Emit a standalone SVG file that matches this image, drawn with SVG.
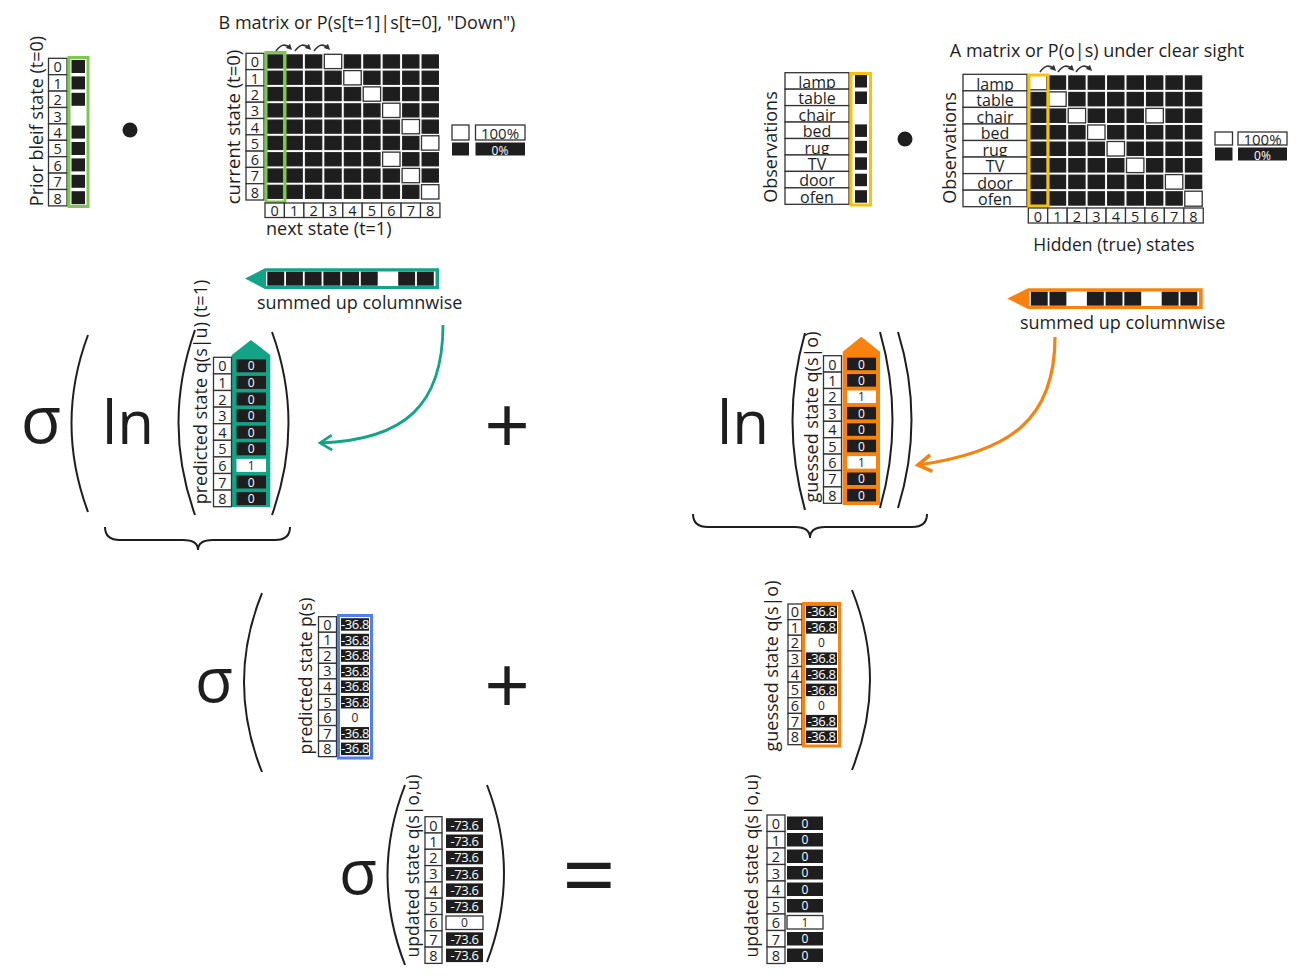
<svg xmlns="http://www.w3.org/2000/svg" width="1308" height="976" viewBox="0 0 1308 976">
<style>
.t{font-family:"Open Sans","DejaVu Sans",sans-serif;fill:#1e1e1e}
.ib{fill:#fff;stroke:#333;stroke-width:1.3}
.bk{fill:#1e1e1e}
.wc{fill:#fff;stroke:#333;stroke-width:1.3}
.n{font-family:"Open Sans","DejaVu Sans",sans-serif;fill:#1e1e1e;font-size:14.5px;text-anchor:middle}
.o{font-family:"Open Sans","DejaVu Sans",sans-serif;fill:#1e1e1e;font-size:16px;text-anchor:middle}
.v{font-family:"Open Sans","DejaVu Sans",sans-serif;fill:#fff;font-size:12px;text-anchor:middle}
.vb{font-family:"Open Sans","DejaVu Sans",sans-serif;fill:#1e1e1e;font-size:12px;text-anchor:middle}
.v3{font-family:"Open Sans","DejaVu Sans",sans-serif;fill:#fff;font-size:13px;text-anchor:middle;letter-spacing:-0.4px}
.par{fill:none;stroke:#1e1e1e;stroke-width:2}
.big{font-family:"Open Sans","DejaVu Sans",sans-serif;fill:#1e1e1e;text-anchor:middle}
.ca{fill:none;stroke:#333;stroke-width:1.6}
</style>
<defs>
<pattern id="pB" patternUnits="userSpaceOnUse" x="265" y="53.3" width="19.44" height="16.3"><rect x="1" y="1" width="17.44" height="14.3" fill="#1e1e1e"/></pattern>
<pattern id="pA" patternUnits="userSpaceOnUse" x="1028.3" y="74.3" width="19.44" height="16.55"><rect x="1" y="1" width="17.44" height="14.55" fill="#1e1e1e"/></pattern>
<marker id="mT" viewBox="0 0 12 12" refX="10" refY="6" markerWidth="18" markerHeight="18" markerUnits="userSpaceOnUse" orient="auto"><path d="M2,1 L10,6 L2,11" fill="none" stroke="#13a386" stroke-width="1.8"/></marker>
<marker id="mO" viewBox="0 0 12 12" refX="10" refY="6" markerWidth="20" markerHeight="20" markerUnits="userSpaceOnUse" orient="auto"><path d="M2,1 L10,6 L2,11" fill="none" stroke="#f7820f" stroke-width="2.2"/></marker>
<marker id="mc" viewBox="0 0 8 8" refX="4" refY="4" markerWidth="6" markerHeight="6" markerUnits="userSpaceOnUse" orient="auto"><path d="M0,0 L8,4 L0,8 Z" fill="#333"/></marker>
</defs>

<!-- Prior belief -->
<g id="prior">
<text class="t" font-size="18" text-anchor="middle" transform="translate(43,121) rotate(-90)">Prior bleif state (t=0)</text>
<rect class="ib" x="48.5" y="58.3" width="18.5" height="16.4"/><text class="n" x="57.7" y="72.3">0</text>
<rect class="ib" x="48.5" y="74.7" width="18.5" height="16.4"/><text class="n" x="57.7" y="88.7">1</text>
<rect class="ib" x="48.5" y="91.1" width="18.5" height="16.4"/><text class="n" x="57.7" y="105.1">2</text>
<rect class="ib" x="48.5" y="107.5" width="18.5" height="16.4"/><text class="n" x="57.7" y="121.5">3</text>
<rect class="ib" x="48.5" y="123.9" width="18.5" height="16.4"/><text class="n" x="57.7" y="137.9">4</text>
<rect class="ib" x="48.5" y="140.3" width="18.5" height="16.4"/><text class="n" x="57.7" y="154.3">5</text>
<rect class="ib" x="48.5" y="156.7" width="18.5" height="16.4"/><text class="n" x="57.7" y="170.7">6</text>
<rect class="ib" x="48.5" y="173.1" width="18.5" height="16.4"/><text class="n" x="57.7" y="187.1">7</text>
<rect class="ib" x="48.5" y="189.5" width="18.5" height="16.4"/><text class="n" x="57.7" y="203.5">8</text>
<rect class="bk" x="71.5" y="60" width="13.5" height="13"/>
<rect class="bk" x="71.5" y="76.4" width="13.5" height="13"/>
<rect class="bk" x="71.5" y="92.8" width="13.5" height="13"/>
<rect fill="#fff" x="71.5" y="109.2" width="13.5" height="13"/>
<rect class="bk" x="71.5" y="125.6" width="13.5" height="13"/>
<rect class="bk" x="71.5" y="142" width="13.5" height="13"/>
<rect class="bk" x="71.5" y="158.4" width="13.5" height="13"/>
<rect class="bk" x="71.5" y="174.8" width="13.5" height="13"/>
<rect class="bk" x="71.5" y="191.2" width="13.5" height="13"/>
<rect x="69" y="57.5" width="19" height="149" fill="none" stroke="#7ec84f" stroke-width="3"/>
</g>
<g id="dot1"><circle cx="130" cy="130" r="7.5" fill="#1e1e1e"/></g>

<!-- B matrix -->
<g id="Bmatrix">
<text class="t" font-size="18" text-anchor="middle" x="367" y="29">B matrix or P(s[t=1]|s[t=0], "Down")</text>
<text class="t" font-size="18.5" text-anchor="middle" transform="translate(240,127) rotate(-90)">current state (t=0)</text>
<text class="t" font-size="18" x="266" y="235">next state (t=1)</text>
<rect class="ib" x="246" y="53.3" width="18" height="16.3"/><text class="n" x="255" y="67.3">0</text>
<rect class="ib" x="246" y="69.6" width="18" height="16.3"/><text class="n" x="255" y="83.6">1</text>
<rect class="ib" x="246" y="85.9" width="18" height="16.3"/><text class="n" x="255" y="99.9">2</text>
<rect class="ib" x="246" y="102.2" width="18" height="16.3"/><text class="n" x="255" y="116.2">3</text>
<rect class="ib" x="246" y="118.5" width="18" height="16.3"/><text class="n" x="255" y="132.5">4</text>
<rect class="ib" x="246" y="134.8" width="18" height="16.3"/><text class="n" x="255" y="148.8">5</text>
<rect class="ib" x="246" y="151.1" width="18" height="16.3"/><text class="n" x="255" y="165.1">6</text>
<rect class="ib" x="246" y="167.4" width="18" height="16.3"/><text class="n" x="255" y="181.4">7</text>
<rect class="ib" x="246" y="183.7" width="18" height="16.3"/><text class="n" x="255" y="197.7">8</text>
<rect x="265" y="53.3" width="175" height="146.7" fill="url(#pB)"/>
<rect class="wc" x="324.3" y="54.3" width="17.4" height="14.3"/>
<rect class="wc" x="343.8" y="70.6" width="17.4" height="14.3"/>
<rect class="wc" x="363.2" y="86.9" width="17.4" height="14.3"/>
<rect class="wc" x="382.6" y="103.2" width="17.4" height="14.3"/>
<rect class="wc" x="402.1" y="119.5" width="17.4" height="14.3"/>
<rect class="wc" x="421.5" y="135.8" width="17.4" height="14.3"/>
<rect class="wc" x="382.6" y="152.1" width="17.4" height="14.3"/>
<rect class="wc" x="402.1" y="168.4" width="17.4" height="14.3"/>
<rect class="wc" x="421.5" y="184.7" width="17.4" height="14.3"/>
<rect x="266" y="52.5" width="19" height="149.5" fill="none" stroke="#7ec84f" stroke-width="3"/>
<rect class="ib" x="265" y="203" width="19.44" height="14.5"/><text class="n" x="274.7" y="216">0</text>
<rect class="ib" x="284.4" y="203" width="19.44" height="14.5"/><text class="n" x="294.1" y="216">1</text>
<rect class="ib" x="303.9" y="203" width="19.44" height="14.5"/><text class="n" x="313.6" y="216">2</text>
<rect class="ib" x="323.3" y="203" width="19.44" height="14.5"/><text class="n" x="333" y="216">3</text>
<rect class="ib" x="342.8" y="203" width="19.44" height="14.5"/><text class="n" x="352.5" y="216">4</text>
<rect class="ib" x="362.2" y="203" width="19.44" height="14.5"/><text class="n" x="371.9" y="216">5</text>
<rect class="ib" x="381.6" y="203" width="19.44" height="14.5"/><text class="n" x="391.3" y="216">6</text>
<rect class="ib" x="401.1" y="203" width="19.44" height="14.5"/><text class="n" x="410.8" y="216">7</text>
<rect class="ib" x="420.5" y="203" width="19.44" height="14.5"/><text class="n" x="430.2" y="216">8</text>
<path class="ca" d="M276,51 Q283,41 290,48" marker-end="url(#mc)"/>
<path class="ca" d="M295,51 Q302,41 309,48" marker-end="url(#mc)"/>
<path class="ca" d="M314,51 Q321,41 328,48" marker-end="url(#mc)"/>
<rect class="wc" x="452" y="125" width="17" height="15"/>
<rect class="wc" x="475.5" y="125" width="49.5" height="15"/><text class="t" font-size="15" text-anchor="middle" x="500" y="138.5">100%</text>
<rect class="bk" x="452" y="142.5" width="17" height="13"/>
<rect class="bk" x="475.5" y="142.5" width="49.5" height="13"/><text class="v" font-size="15" x="500" y="154.5">0%</text>
</g>

<!-- Observation vector (left) -->
<g id="obsvec">
<text class="t" font-size="18" text-anchor="middle" transform="translate(777,147) rotate(-90)">Observations</text>
<rect class="ib" x="785" y="72.7" width="64" height="16.45"/><text class="o" x="817" y="87.7">lamp</text>
<rect class="ib" x="785" y="89.15" width="64" height="16.45"/><text class="o" x="817" y="104.2">table</text>
<rect class="ib" x="785" y="105.6" width="64" height="16.45"/><text class="o" x="817" y="120.6">chair</text>
<rect class="ib" x="785" y="122.05" width="64" height="16.45"/><text class="o" x="817" y="137.1">bed</text>
<rect class="ib" x="785" y="138.5" width="64" height="16.45"/><text class="o" x="817" y="153.5">rug</text>
<rect class="ib" x="785" y="154.95" width="64" height="16.45"/><text class="o" x="817" y="170">TV</text>
<rect class="ib" x="785" y="171.4" width="64" height="16.45"/><text class="o" x="817" y="186.4">door</text>
<rect class="ib" x="785" y="187.85" width="64" height="16.45"/><text class="o" x="817" y="202.9">ofen</text>
<rect class="bk" x="855" y="75" width="12" height="12.5"/>
<rect class="bk" x="855" y="91.5" width="12" height="12.5"/>
<rect fill="#fff" x="855" y="107.9" width="12" height="12.5"/>
<rect class="bk" x="855" y="124.4" width="12" height="12.5"/>
<rect class="bk" x="855" y="140.8" width="12" height="12.5"/>
<rect class="bk" x="855" y="157.3" width="12" height="12.5"/>
<rect class="bk" x="855" y="173.7" width="12" height="12.5"/>
<rect class="bk" x="855" y="190.2" width="12" height="12.5"/>
<rect x="851" y="73.5" width="19.5" height="131.5" fill="none" stroke="#f8c20b" stroke-width="3"/>
</g>
<g id="dot2"><circle cx="905" cy="139" r="7.5" fill="#1e1e1e"/></g>

<!-- A matrix -->
<g id="Amatrix">
<text class="t" font-size="18" text-anchor="middle" x="1097" y="57">A matrix or P(o|s) under clear sight</text>
<text class="t" font-size="18" text-anchor="middle" transform="translate(956,148) rotate(-90)">Observations</text>
<text class="t" font-size="17.5" text-anchor="middle" x="1114" y="251">Hidden (true) states</text>
<rect class="ib" x="963" y="74.3" width="64" height="16.55"/><text class="o" x="995" y="89.5">lamp</text>
<rect class="ib" x="963" y="90.85" width="64" height="16.55"/><text class="o" x="995" y="106">table</text>
<rect class="ib" x="963" y="107.4" width="64" height="16.55"/><text class="o" x="995" y="122.6">chair</text>
<rect class="ib" x="963" y="123.95" width="64" height="16.55"/><text class="o" x="995" y="139.1">bed</text>
<rect class="ib" x="963" y="140.5" width="64" height="16.55"/><text class="o" x="995" y="155.7">rug</text>
<rect class="ib" x="963" y="157.05" width="64" height="16.55"/><text class="o" x="995" y="172.2">TV</text>
<rect class="ib" x="963" y="173.6" width="64" height="16.55"/><text class="o" x="995" y="188.8">door</text>
<rect class="ib" x="963" y="190.15" width="64" height="16.55"/><text class="o" x="995" y="205.3">ofen</text>
<rect x="1028.3" y="74.3" width="175" height="132.4" fill="url(#pA)"/>
<rect class="wc" x="1029.3" y="75.3" width="17.4" height="14.5"/>
<rect class="wc" x="1048.7" y="91.9" width="17.4" height="14.5"/>
<rect class="wc" x="1068.2" y="108.4" width="17.4" height="14.5"/>
<rect class="wc" x="1145.9" y="108.4" width="17.4" height="14.5"/>
<rect class="wc" x="1087.6" y="125" width="17.4" height="14.5"/>
<rect class="wc" x="1107.1" y="141.5" width="17.4" height="14.5"/>
<rect class="wc" x="1126.5" y="158.1" width="17.4" height="14.5"/>
<rect class="wc" x="1165.4" y="174.6" width="17.4" height="14.5"/>
<rect class="wc" x="1184.8" y="191.2" width="17.4" height="15"/>
<rect x="1029" y="75" width="19" height="131" fill="none" stroke="#f8c20b" stroke-width="3"/>
<rect class="ib" x="1028.3" y="208" width="19.44" height="15"/><text class="n" x="1038" y="221.5">0</text>
<rect class="ib" x="1047.7" y="208" width="19.44" height="15"/><text class="n" x="1057.4" y="221.5">1</text>
<rect class="ib" x="1067.2" y="208" width="19.44" height="15"/><text class="n" x="1076.9" y="221.5">2</text>
<rect class="ib" x="1086.6" y="208" width="19.44" height="15"/><text class="n" x="1096.3" y="221.5">3</text>
<rect class="ib" x="1106.1" y="208" width="19.44" height="15"/><text class="n" x="1115.8" y="221.5">4</text>
<rect class="ib" x="1125.5" y="208" width="19.44" height="15"/><text class="n" x="1135.2" y="221.5">5</text>
<rect class="ib" x="1144.9" y="208" width="19.44" height="15"/><text class="n" x="1154.6" y="221.5">6</text>
<rect class="ib" x="1164.4" y="208" width="19.44" height="15"/><text class="n" x="1174.1" y="221.5">7</text>
<rect class="ib" x="1183.8" y="208" width="19.44" height="15"/><text class="n" x="1193.5" y="221.5">8</text>
<path class="ca" d="M1040,72 Q1047,62 1054,69" marker-end="url(#mc)"/>
<path class="ca" d="M1058,72 Q1065,62 1072,69" marker-end="url(#mc)"/>
<path class="ca" d="M1076,72 Q1083,62 1090,69" marker-end="url(#mc)"/>
<rect class="wc" x="1215" y="132" width="17.5" height="13"/>
<rect class="wc" x="1238" y="132" width="49" height="13"/><text class="t" font-size="15" text-anchor="middle" x="1262.5" y="144.5">100%</text>
<rect class="bk" x="1215" y="147.5" width="17.5" height="13"/>
<rect class="bk" x="1238" y="147.5" width="49" height="13"/><text class="v" font-size="15" x="1262.5" y="159.5">0%</text>
</g>

<!-- summed teal -->
<g id="sumTeal">
<polygon points="245,278.5 265,268.3 439,268.3 439,289 265,289" fill="#13a386"/>
<rect x="266" y="271.5" width="169.5" height="14.5" fill="#fff"/>
<rect class="bk" x="267.3" y="271.7" width="16.9" height="14"/>
<rect class="bk" x="286" y="271.7" width="16.9" height="14"/>
<rect class="bk" x="304.7" y="271.7" width="16.9" height="14"/>
<rect class="bk" x="323.4" y="271.7" width="16.9" height="14"/>
<rect class="bk" x="342.1" y="271.7" width="16.9" height="14"/>
<rect class="bk" x="360.8" y="271.7" width="16.9" height="14"/>
<rect class="bk" x="398.2" y="271.7" width="16.9" height="14"/>
<rect class="bk" x="416.9" y="271.7" width="16.9" height="14"/>
<text class="t" font-size="18" x="257" y="309">summed up columnwise</text>
</g>

<!-- summed orange -->
<g id="sumOrange">
<polygon points="1007.3,298.5 1028,288.3 1202.7,288.3 1202.7,309 1028,309" fill="#f7820f"/>
<rect x="1029.5" y="291.5" width="169.5" height="14.5" fill="#fff"/>
<rect class="bk" x="1030.8" y="291.7" width="16.9" height="14"/>
<rect class="bk" x="1049.5" y="291.7" width="16.9" height="14"/>
<rect class="bk" x="1086.9" y="291.7" width="16.9" height="14"/>
<rect class="bk" x="1105.6" y="291.7" width="16.9" height="14"/>
<rect class="bk" x="1124.3" y="291.7" width="16.9" height="14"/>
<rect class="bk" x="1161.7" y="291.7" width="16.9" height="14"/>
<rect class="bk" x="1180.4" y="291.7" width="16.9" height="14"/>
<text class="t" font-size="18" x="1020" y="329">summed up columnwise</text>
</g>

<!-- Row 1 left: sigma ( ln ( q(s|u) ) -->
<g id="sigma1"><text class="big" font-size="66" x="41" y="443">σ</text></g>
<g id="ln1"><text class="big" font-size="60" x="128" y="444">ln</text></g>
<g id="parens1">
<path class="par" d="M88,335 Q55,423 88,512"/>
<path class="par" d="M195,330 Q162,423 195,515"/>
<path class="par" d="M272,332 Q305,423 272,515"/>
</g>
<g id="qsu">
<text class="t" font-size="18" text-anchor="middle" transform="translate(207,392) rotate(-90)">predicted state q(s|u) (t=1)</text>
<polygon points="231.7,355 251,340 270.3,355 270.3,507 231.7,507" fill="#13a386"/>
<rect class="ib" x="213.5" y="357.3" width="18" height="16.6"/><text class="n" x="222.5" y="371.3">0</text>
<rect class="ib" x="213.5" y="373.9" width="18" height="16.6"/><text class="n" x="222.5" y="387.9">1</text>
<rect class="ib" x="213.5" y="390.5" width="18" height="16.6"/><text class="n" x="222.5" y="404.5">2</text>
<rect class="ib" x="213.5" y="407.1" width="18" height="16.6"/><text class="n" x="222.5" y="421.1">3</text>
<rect class="ib" x="213.5" y="423.7" width="18" height="16.6"/><text class="n" x="222.5" y="437.7">4</text>
<rect class="ib" x="213.5" y="440.3" width="18" height="16.6"/><text class="n" x="222.5" y="454.3">5</text>
<rect class="ib" x="213.5" y="456.9" width="18" height="16.6"/><text class="n" x="222.5" y="470.9">6</text>
<rect class="ib" x="213.5" y="473.5" width="18" height="16.6"/><text class="n" x="222.5" y="487.5">7</text>
<rect class="ib" x="213.5" y="490.1" width="18" height="16.6"/><text class="n" x="222.5" y="504.1">8</text>
<rect class="bk" x="236.5" y="359.3" width="29.5" height="13"/><text class="v" x="251.3" y="370.3">0</text>
<rect class="bk" x="236.5" y="375.9" width="29.5" height="13"/><text class="v" x="251.3" y="386.9">0</text>
<rect class="bk" x="236.5" y="392.5" width="29.5" height="13"/><text class="v" x="251.3" y="403.5">0</text>
<rect class="bk" x="236.5" y="409.1" width="29.5" height="13"/><text class="v" x="251.3" y="420.1">0</text>
<rect class="bk" x="236.5" y="425.7" width="29.5" height="13"/><text class="v" x="251.3" y="436.7">0</text>
<rect class="bk" x="236.5" y="442.3" width="29.5" height="13"/><text class="v" x="251.3" y="453.3">0</text>
<rect fill="#fff" x="236.5" y="458.9" width="29.5" height="13"/><text class="vb" x="251.3" y="469.9">1</text>
<rect class="bk" x="236.5" y="475.5" width="29.5" height="13"/><text class="v" x="251.3" y="486.5">0</text>
<rect class="bk" x="236.5" y="492.1" width="29.5" height="13"/><text class="v" x="251.3" y="503.1">0</text>
</g>

<g id="plus1"><text class="big" font-size="80" x="507" y="454">+</text></g>

<!-- Row 1 right -->
<g id="ln2"><text class="big" font-size="60" x="743" y="444">ln</text></g>
<g id="parens2">
<path class="par" d="M805,333 Q780,420 805,510"/>
<path class="par" d="M880,332 Q905,420 880,508"/>
<path class="par" d="M898,332 Q925,420 898,508"/>
</g>
<g id="qso1">
<text class="t" font-size="18" text-anchor="middle" transform="translate(818,417) rotate(-90)">guessed state q(s|o)</text>
<polygon points="842.7,351.7 861.3,336.7 880,351.7 880,505 842.7,505" fill="#f7820f"/>
<rect class="ib" x="823.5" y="355.7" width="18" height="16.4"/><text class="n" x="832.5" y="369.5">0</text>
<rect class="ib" x="823.5" y="372.1" width="18" height="16.4"/><text class="n" x="832.5" y="385.9">1</text>
<rect class="ib" x="823.5" y="388.5" width="18" height="16.4"/><text class="n" x="832.5" y="402.3">2</text>
<rect class="ib" x="823.5" y="404.9" width="18" height="16.4"/><text class="n" x="832.5" y="418.7">3</text>
<rect class="ib" x="823.5" y="421.3" width="18" height="16.4"/><text class="n" x="832.5" y="435.1">4</text>
<rect class="ib" x="823.5" y="437.7" width="18" height="16.4"/><text class="n" x="832.5" y="451.5">5</text>
<rect class="ib" x="823.5" y="454.1" width="18" height="16.4"/><text class="n" x="832.5" y="467.9">6</text>
<rect class="ib" x="823.5" y="470.5" width="18" height="16.4"/><text class="n" x="832.5" y="484.3">7</text>
<rect class="ib" x="823.5" y="486.9" width="18" height="16.4"/><text class="n" x="832.5" y="500.7">8</text>
<rect class="bk" x="847" y="357.7" width="29" height="12.5"/><text class="v" x="861.5" y="368.5">0</text>
<rect class="bk" x="847" y="374.1" width="29" height="12.5"/><text class="v" x="861.5" y="384.9">0</text>
<rect fill="#fff" x="847" y="390.5" width="29" height="12.5"/><text class="vb" x="861.5" y="401.3">1</text>
<rect class="bk" x="847" y="406.9" width="29" height="12.5"/><text class="v" x="861.5" y="417.7">0</text>
<rect class="bk" x="847" y="423.3" width="29" height="12.5"/><text class="v" x="861.5" y="434.1">0</text>
<rect class="bk" x="847" y="439.7" width="29" height="12.5"/><text class="v" x="861.5" y="450.5">0</text>
<rect fill="#fff" x="847" y="456.1" width="29" height="12.5"/><text class="vb" x="861.5" y="466.9">1</text>
<rect class="bk" x="847" y="472.5" width="29" height="12.5"/><text class="v" x="861.5" y="483.3">0</text>
<rect class="bk" x="847" y="488.9" width="29" height="12.5"/><text class="v" x="861.5" y="499.7">0</text>
</g>

<!-- Connectors -->
<g id="connectors">
<path d="M443,325 C443,405 405,440 320,443" fill="none" stroke="#13a386" stroke-width="2.8" marker-end="url(#mT)"/>
<path d="M1055,337 C1055,420 1010,452 918,465" fill="none" stroke="#f7820f" stroke-width="3.2" marker-end="url(#mO)"/>
<path class="par" d="M105,527 Q105,540 120,540 L183,540 Q198,540 198,550 Q198,540 213,540 L275,540 Q290,540 290,527"/>
<path class="par" d="M693,514 Q693,527 708,527 L795,527 Q810,527 810,538 Q810,527 825,527 L912,527 Q927,527 927,514"/>
</g>

<!-- Row 2 -->
<g id="sigma2"><text class="big" font-size="62" x="214" y="702">σ</text></g>
<g id="parens3">
<path class="par" d="M262,593 Q226,682 262,772"/>
<path class="par" d="M852,590 Q888,680 852,770"/>
</g>
<g id="ps">
<text class="t" font-size="17.5" text-anchor="middle" transform="translate(312,676) rotate(-90)">predicted state p(s)</text>
<rect class="ib" x="318.5" y="616.7" width="18" height="15.55"/><text class="n" x="327.5" y="629.8">0</text>
<rect class="ib" x="318.5" y="632.25" width="18" height="15.55"/><text class="n" x="327.5" y="645.3">1</text>
<rect class="ib" x="318.5" y="647.8" width="18" height="15.55"/><text class="n" x="327.5" y="660.9">2</text>
<rect class="ib" x="318.5" y="663.35" width="18" height="15.55"/><text class="n" x="327.5" y="676.4">3</text>
<rect class="ib" x="318.5" y="678.9" width="18" height="15.55"/><text class="n" x="327.5" y="692">4</text>
<rect class="ib" x="318.5" y="694.45" width="18" height="15.55"/><text class="n" x="327.5" y="707.5">5</text>
<rect class="ib" x="318.5" y="710" width="18" height="15.55"/><text class="n" x="327.5" y="723.1">6</text>
<rect class="ib" x="318.5" y="725.55" width="18" height="15.55"/><text class="n" x="327.5" y="738.6">7</text>
<rect class="ib" x="318.5" y="741.1" width="18" height="15.55"/><text class="n" x="327.5" y="754.2">8</text>
<rect class="bk" x="341" y="618.2" width="28" height="12.5"/><text class="v3" x="355" y="629">-36.8</text>
<rect class="bk" x="341" y="633.75" width="28" height="12.5"/><text class="v3" x="355" y="644.6">-36.8</text>
<rect class="bk" x="341" y="649.3" width="28" height="12.5"/><text class="v3" x="355" y="660.1">-36.8</text>
<rect class="bk" x="341" y="664.85" width="28" height="12.5"/><text class="v3" x="355" y="675.7">-36.8</text>
<rect class="bk" x="341" y="680.4" width="28" height="12.5"/><text class="v3" x="355" y="691.2">-36.8</text>
<rect class="bk" x="341" y="695.95" width="28" height="12.5"/><text class="v3" x="355" y="706.8">-36.8</text>
<rect fill="#fff" x="341" y="711.5" width="28" height="12.5"/><text class="vb" x="355" y="722.1">0</text>
<rect class="bk" x="341" y="727.05" width="28" height="12.5"/><text class="v3" x="355" y="737.9">-36.8</text>
<rect class="bk" x="341" y="742.6" width="28" height="12.5"/><text class="v3" x="355" y="753.4">-36.8</text>
<rect x="338.5" y="615.5" width="33" height="142.5" fill="none" stroke="#4f7ff0" stroke-width="3"/>
</g>
<g id="plus2"><text class="big" font-size="80" x="507" y="714">+</text></g>
<g id="qso2">
<text class="t" font-size="18" text-anchor="middle" transform="translate(778,666) rotate(-90)">guessed state q(s|o)</text>
<rect class="ib" x="788" y="604" width="14" height="15.63"/><text class="n" x="795" y="617.1">0</text>
<rect class="ib" x="788" y="619.63" width="14" height="15.63"/><text class="n" x="795" y="632.7">1</text>
<rect class="ib" x="788" y="635.26" width="14" height="15.63"/><text class="n" x="795" y="648.4">2</text>
<rect class="ib" x="788" y="650.89" width="14" height="15.63"/><text class="n" x="795" y="664">3</text>
<rect class="ib" x="788" y="666.52" width="14" height="15.63"/><text class="n" x="795" y="679.6">4</text>
<rect class="ib" x="788" y="682.15" width="14" height="15.63"/><text class="n" x="795" y="695.2">5</text>
<rect class="ib" x="788" y="697.78" width="14" height="15.63"/><text class="n" x="795" y="710.9">6</text>
<rect class="ib" x="788" y="713.41" width="14" height="15.63"/><text class="n" x="795" y="726.5">7</text>
<rect class="ib" x="788" y="729.04" width="14" height="15.63"/><text class="n" x="795" y="742.1">8</text>
<rect class="bk" x="806" y="605.5" width="31" height="12.5"/><text class="v3" x="821.5" y="616.3">-36.8</text>
<rect class="bk" x="806" y="621.13" width="31" height="12.5"/><text class="v3" x="821.5" y="631.9">-36.8</text>
<rect fill="#fff" x="806" y="636.76" width="31" height="12.5"/><text class="vb" x="821.5" y="647.4">0</text>
<rect class="bk" x="806" y="652.39" width="31" height="12.5"/><text class="v3" x="821.5" y="663.2">-36.8</text>
<rect class="bk" x="806" y="668.02" width="31" height="12.5"/><text class="v3" x="821.5" y="678.8">-36.8</text>
<rect class="bk" x="806" y="683.65" width="31" height="12.5"/><text class="v3" x="821.5" y="694.5">-36.8</text>
<rect fill="#fff" x="806" y="699.28" width="31" height="12.5"/><text class="vb" x="821.5" y="709.9">0</text>
<rect class="bk" x="806" y="714.91" width="31" height="12.5"/><text class="v3" x="821.5" y="725.7">-36.8</text>
<rect class="bk" x="806" y="730.54" width="31" height="12.5"/><text class="v3" x="821.5" y="741.4">-36.8</text>
<rect x="803.5" y="603.5" width="36" height="142.5" fill="none" stroke="#f7820f" stroke-width="3"/>
</g>

<!-- Row 3 -->
<g id="sigma3"><text class="big" font-size="62" x="358" y="894">σ</text></g>
<g id="parens4">
<path class="par" d="M405,785 Q370,875 405,965"/>
<path class="par" d="M487,785 Q521,873 487,962"/>
</g>
<g id="qsou">
<text class="t" font-size="17.5" text-anchor="middle" transform="translate(419,866) rotate(-90)">updated state q(s|o,u)</text>
<rect class="ib" x="425" y="816.7" width="17" height="16.3"/><text class="n" x="433.5" y="830.5">0</text>
<rect class="ib" x="425" y="833" width="17" height="16.3"/><text class="n" x="433.5" y="846.8">1</text>
<rect class="ib" x="425" y="849.3" width="17" height="16.3"/><text class="n" x="433.5" y="863.1">2</text>
<rect class="ib" x="425" y="865.6" width="17" height="16.3"/><text class="n" x="433.5" y="879.4">3</text>
<rect class="ib" x="425" y="881.9" width="17" height="16.3"/><text class="n" x="433.5" y="895.7">4</text>
<rect class="ib" x="425" y="898.2" width="17" height="16.3"/><text class="n" x="433.5" y="912">5</text>
<rect class="ib" x="425" y="914.5" width="17" height="16.3"/><text class="n" x="433.5" y="928.3">6</text>
<rect class="ib" x="425" y="930.8" width="17" height="16.3"/><text class="n" x="433.5" y="944.6">7</text>
<rect class="ib" x="425" y="947.1" width="17" height="16.3"/><text class="n" x="433.5" y="960.9">8</text>
<rect class="bk" x="446" y="818.2" width="37" height="13.5"/><text class="v3" x="464.5" y="829.7">-73.6</text>
<rect class="bk" x="446" y="834.5" width="37" height="13.5"/><text class="v3" x="464.5" y="846">-73.6</text>
<rect class="bk" x="446" y="850.8" width="37" height="13.5"/><text class="v3" x="464.5" y="862.3">-73.6</text>
<rect class="bk" x="446" y="867.1" width="37" height="13.5"/><text class="v3" x="464.5" y="878.6">-73.6</text>
<rect class="bk" x="446" y="883.4" width="37" height="13.5"/><text class="v3" x="464.5" y="894.9">-73.6</text>
<rect class="bk" x="446" y="899.7" width="37" height="13.5"/><text class="v3" x="464.5" y="911.2">-73.6</text>
<rect class="wc" x="446" y="916" width="37" height="13.5"/><text class="vb" x="464.5" y="927.3">0</text>
<rect class="bk" x="446" y="932.3" width="37" height="13.5"/><text class="v3" x="464.5" y="943.8">-73.6</text>
<rect class="bk" x="446" y="948.6" width="37" height="13.5"/><text class="v3" x="464.5" y="960.1">-73.6</text>
</g>
<g id="equals"><text class="big" font-size="95" x="589" y="909">=</text></g>
<g id="qsouFinal">
<text class="t" font-size="17.5" text-anchor="middle" transform="translate(758,866) rotate(-90)">updated state q(s|o,u)</text>
<rect class="ib" x="767" y="815" width="18" height="16.5"/><text class="n" x="776" y="829">0</text>
<rect class="ib" x="767" y="831.5" width="18" height="16.5"/><text class="n" x="776" y="845.5">1</text>
<rect class="ib" x="767" y="848" width="18" height="16.5"/><text class="n" x="776" y="862">2</text>
<rect class="ib" x="767" y="864.5" width="18" height="16.5"/><text class="n" x="776" y="878.5">3</text>
<rect class="ib" x="767" y="881" width="18" height="16.5"/><text class="n" x="776" y="895">4</text>
<rect class="ib" x="767" y="897.5" width="18" height="16.5"/><text class="n" x="776" y="911.5">5</text>
<rect class="ib" x="767" y="914" width="18" height="16.5"/><text class="n" x="776" y="928">6</text>
<rect class="ib" x="767" y="930.5" width="18" height="16.5"/><text class="n" x="776" y="944.5">7</text>
<rect class="ib" x="767" y="947" width="18" height="16.5"/><text class="n" x="776" y="961">8</text>
<rect class="bk" x="787" y="816.5" width="36" height="13.5"/><text class="v" x="805" y="827.8">0</text>
<rect class="bk" x="787" y="833" width="36" height="13.5"/><text class="v" x="805" y="844.3">0</text>
<rect class="bk" x="787" y="849.5" width="36" height="13.5"/><text class="v" x="805" y="860.8">0</text>
<rect class="bk" x="787" y="866" width="36" height="13.5"/><text class="v" x="805" y="877.3">0</text>
<rect class="bk" x="787" y="882.5" width="36" height="13.5"/><text class="v" x="805" y="893.8">0</text>
<rect class="bk" x="787" y="899" width="36" height="13.5"/><text class="v" x="805" y="910.3">0</text>
<rect class="wc" x="787" y="915.5" width="36" height="13.5"/><text class="vb" x="805" y="926.8">1</text>
<rect class="bk" x="787" y="932" width="36" height="13.5"/><text class="v" x="805" y="943.3">0</text>
<rect class="bk" x="787" y="948.5" width="36" height="13.5"/><text class="v" x="805" y="959.8">0</text>
</g>
</svg>
